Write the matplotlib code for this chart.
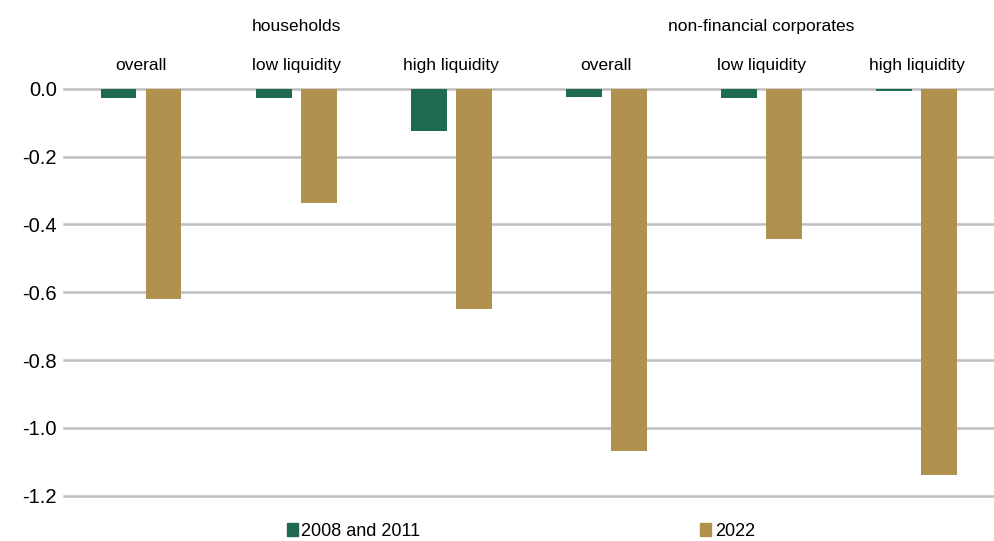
import numpy as np
import matplotlib.pyplot as plt
from matplotlib.patches import Patch

plt.rcParams['font.family'] = ['Liberation Sans Narrow', 'Liberation Sans', 'DejaVu Sans']

groups = ['households', 'non-financial corporates']
sub_labels = ['overall', 'low liquidity', 'high liquidity',
              'overall', 'low liquidity', 'high liquidity']
crisis_0811 = [-0.027, -0.027, -0.125, -0.025, -0.027, -0.006]
crisis_2022 = [-0.62, -0.337, -0.648, -1.068, -0.443, -1.138]
series_names = ['2008 and 2011', '2022']
yticks = [-1.2, -1.0, -0.8, -0.6, -0.4, -0.2, 0.0]

green = '#1f6b50'
gold = '#b0924e'

fig = plt.figure(figsize=(9.94, 5.41), dpi=100)
ax = fig.add_axes([0.064, 0.0837, 0.936, 0.7523])

x = np.arange(len(sub_labels))
w = 0.23
ax.bar(x - 0.145, crisis_0811, w, color=green, zorder=3)
ax.bar(x + 0.145, crisis_2022, w, color=gold, zorder=3)

ax.set_xlim(-0.5, len(sub_labels) - 0.5)
ax.set_ylim(-1.2, 0)
ax.set_yticks(yticks)
ax.set_yticklabels([f'{v:.1f}' if v != 0 else '0.0' for v in yticks])
ax.yaxis.grid(True, color='#bfbfbf', linewidth=1.8, zorder=0)
for gl in ax.yaxis.get_gridlines():
    gl.set_clip_on(False)
ax.set_xticks([])
for s in ax.spines.values():
    s.set_visible(False)
ax.tick_params(axis='y', length=0, labelsize=14.5, pad=5)

# sub labels and group labels above the plot
for i, lab in enumerate(sub_labels):
    ax.text(i, 1.058, lab, transform=ax.get_xaxis_transform(), ha='center',
            va='center', fontsize=12.5)
for g, lab in enumerate(groups):
    ax.text(3 * g + 1, 1.154, lab, transform=ax.get_xaxis_transform(), ha='center',
            va='center', fontsize=12.5)

handles = [Patch(color=green), Patch(color=gold)]
fig.legend(handles, series_names, loc='lower center', bbox_to_anchor=(0.524, -0.028),
           ncol=2, frameon=False, fontsize=13, handlelength=0.6, handleheight=0.7,
           handletextpad=0.2, columnspacing=15.5)

fig.savefig('out.png', dpi=100)
